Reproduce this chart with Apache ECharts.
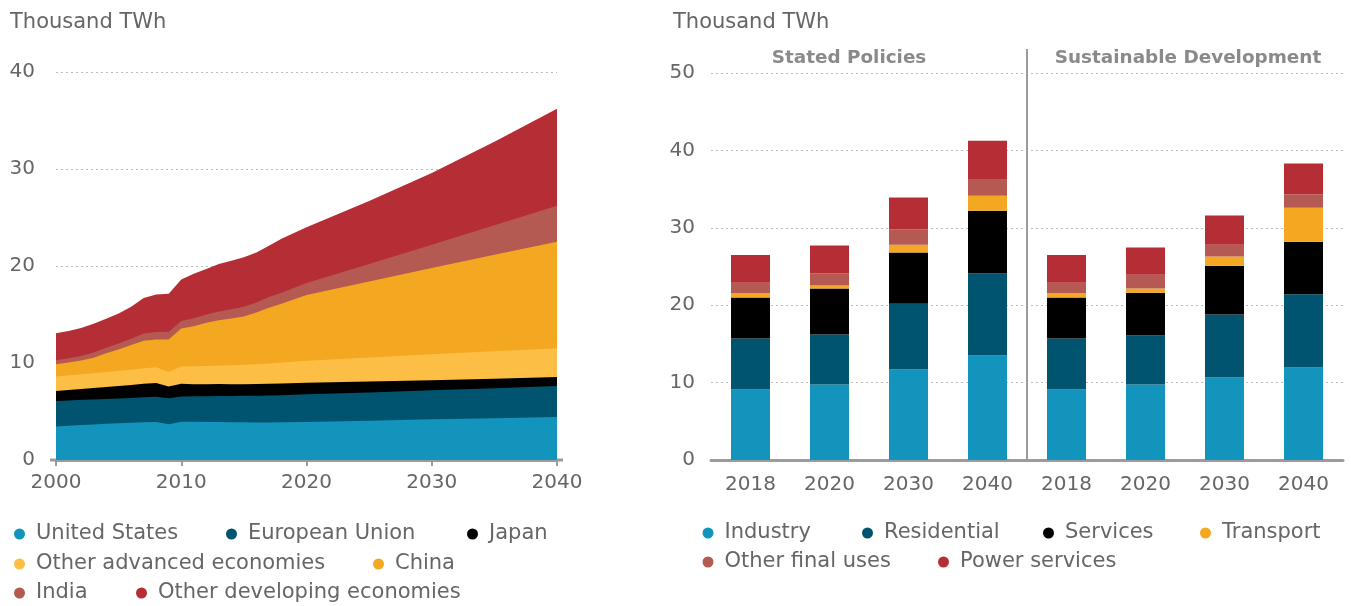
<!DOCTYPE html>
<html>
<head>
<meta charset="utf-8">
<script src="https://cdn.jsdelivr.net/npm/echarts@6/dist/echarts.min.js"></script>
<style>
html,body{margin:0;padding:0;background:#fff;}
#chart{width:1351px;height:606px;}
</style>
</head>
<body>
<div id="chart"></div>
<script>
// ---------- Left chart: electricity demand by region ----------
const years = [2000,2001,2002,2003,2004,2005,2006,2007,2008,2009,2010,2011,2012,2013,2014,2015,2016,2017,2018,2020,2025,2030,2035,2040];
const unitedStates = [3.45,3.52,3.6,3.67,3.73,3.8,3.85,3.9,3.92,3.68,3.95,3.94,3.92,3.91,3.9,3.88,3.87,3.87,3.9,3.93,4.05,4.19,4.31,4.43];
const europeanUnion = [2.63,2.62,2.6,2.58,2.57,2.55,2.55,2.58,2.61,2.68,2.6,2.63,2.66,2.69,2.7,2.74,2.76,2.78,2.78,2.84,2.92,2.99,3.09,3.2];
const japan = [1.03,1.08,1.12,1.17,1.22,1.28,1.33,1.38,1.42,1.22,1.3,1.25,1.24,1.23,1.22,1.2,1.2,1.21,1.21,1.2,1.12,1.03,0.98,0.93];
const otherAdvanced = [1.5,1.51,1.52,1.53,1.55,1.56,1.58,1.6,1.6,1.5,1.8,1.84,1.88,1.92,1.96,2.0,2.05,2.1,2.15,2.25,2.47,2.68,2.82,2.96];
const china = [1.25,1.32,1.41,1.6,1.93,2.21,2.54,2.84,2.87,3.34,3.9,4.14,4.45,4.65,4.82,4.98,5.32,5.74,6.06,6.78,7.84,8.91,9.95,10.98];
const india = [0.42,0.45,0.48,0.52,0.56,0.6,0.66,0.73,0.78,0.8,0.78,0.82,0.86,0.9,0.95,1.0,1.05,1.1,1.15,1.25,1.8,2.4,3.05,3.7];
const otherDeveloping = [2.78,2.8,2.87,2.98,2.99,3.1,3.29,3.67,3.85,3.93,4.27,4.58,4.69,4.9,5.0,5.1,5.15,5.3,5.55,5.75,6.5,7.4,8.6,10.0];
const leftYTicks = [0,10,20,30,40];
const leftXTicks = [2000,2010,2020,2030,2040];

// ---------- Right chart: demand by sector and scenario ----------
const barYears = ['2018','2020','2030','2040','2018','2020','2030','2040'];
const scenarios = ['Stated Policies','Sustainable Development'];
const industry =    [9.1, 9.76, 11.7, 13.5, 9.1, 9.76, 10.67, 11.96];
const residential = [6.6, 6.45, 8.5, 10.6, 6.6, 6.34, 8.13, 9.44];
const services =    [5.3, 5.95, 6.6, 8.1, 5.3, 5.5, 6.3, 6.8];
const transport =   [0.55, 0.4, 1.0, 1.95, 0.55, 0.55, 1.2, 4.4];
const otherFinal =  [1.35, 1.55, 2.0, 2.15, 1.35, 1.8, 1.5, 1.7];
const powerServices=[3.6, 3.6, 4.1, 4.95, 3.6, 3.5, 3.8, 4.0];
const rightYTicks = [0,10,20,30,40,50];

const C = {
  blue:'#1394BC', teal:'#00546F', black:'#000000', yellow:'#FDBE45',
  orange:'#F4A720', rose:'#B55A52', red:'#B52D35'
};
const FONT = 'DejaVu Sans, Verdana, sans-serif';
const TXT = '#666666';
const AXIS = '#9b9b9b';

const leftSeriesDefs = [
  ['United States', unitedStates, C.blue],
  ['European Union', europeanUnion, C.teal],
  ['Japan', japan, C.black],
  ['Other advanced economies', otherAdvanced, C.yellow],
  ['China', china, C.orange],
  ['India', india, C.rose],
  ['Other developing economies', otherDeveloping, C.red]
];
const rightSeriesDefs = [
  ['Industry', industry, C.blue],
  ['Residential', residential, C.teal],
  ['Services', services, C.black],
  ['Transport', transport, C.orange],
  ['Other final uses', otherFinal, C.rose],
  ['Power services', powerServices, C.red]
];

const chart = echarts.init(document.getElementById('chart'), null, {renderer:'canvas'});

// Stacked areas on a value x-axis: build running totals, draw the tallest first.
const running = years.map(() => 0);
const leftSeries = leftSeriesDefs.map(([name, vals, color]) => {
  vals.forEach((v,i) => { running[i] += v; });
  const totals = running.slice();
  return {
    name, type:'line', xAxisIndex:0, yAxisIndex:0,
    data: years.map((y,i)=>[y, +totals[i].toFixed(3)]),
    showSymbol:false, symbol:'none', smooth:false,
    lineStyle:{width:0}, areaStyle:{color, opacity:1, origin:'start'}, itemStyle:{color},
    emphasis:{disabled:true}, animation:false
  };
});
const series = leftSeries.slice().reverse();
rightSeriesDefs.forEach(([name, vals, color]) => {
  series.push({
    name, type:'bar', xAxisIndex:1, yAxisIndex:1, stack:'sectors',
    data: vals, barWidth:39, itemStyle:{color},
    emphasis:{disabled:true}, animation:false
  });
});

// legend item positions (layout)
const legendPos = {
  'United States':[14,534], 'European Union':[226,534], 'Japan':[467,534],
  'Other advanced economies':[14,564], 'China':[373,564],
  'India':[14,593], 'Other developing economies':[136,593],
  'Industry':[702.5,533], 'Residential':[862,533], 'Services':[1043,533], 'Transport':[1200,533],
  'Other final uses':[702.5,562], 'Power services':[938,562]
};
const legends = Object.keys(legendPos).map(name => ({
  data:[name], left: legendPos[name][0], top: legendPos[name][1]-11,
  icon:'circle', itemWidth:11, itemHeight:11, itemGap:0, padding:0,
  selectedMode:false,
  textStyle:{color:TXT, fontSize:21, fontFamily:FONT, lineHeight:22, padding:[0,0,0,6]}
}));

const option = {
  animation:false,
  title:[
    {text:'Thousand TWh', left:10, top:12, padding:0, textStyle:{color:TXT, fontSize:21, fontWeight:'normal', fontFamily:FONT}},
    {text:'Thousand TWh', left:673, top:12, padding:0, textStyle:{color:TXT, fontSize:21, fontWeight:'normal', fontFamily:FONT}}
  ],
  legend: legends,
  grid:[
    {left:56, top:72, width:501, height:388},
    {left:711, top:73, width:632, height:387}
  ],
  xAxis:[
    {type:'value', gridIndex:0, min:leftXTicks[0], max:leftXTicks[leftXTicks.length-1], interval:10,
     axisLine:{show:true, onZero:false, lineStyle:{color:AXIS, width:3}},
     axisTick:{show:true, length:6, lineStyle:{color:AXIS, width:2}},
     axisLabel:{color:TXT, fontSize:20, fontFamily:FONT, margin:13, formatter:(v)=>String(v)},
     splitLine:{show:false}},
    {type:'category', gridIndex:1, data:barYears, boundaryGap:true,
     axisLine:{show:true, lineStyle:{color:AXIS, width:3}},
     axisTick:{show:false},
     axisLabel:{color:TXT, fontSize:20, fontFamily:FONT, margin:15, interval:0},
     splitLine:{show:false}}
  ],
  yAxis:[
    {type:'value', gridIndex:0, min:leftYTicks[0], max:leftYTicks[leftYTicks.length-1], interval:10,
     axisLine:{show:false}, axisTick:{show:false},
     axisLabel:{color:TXT, fontSize:20, fontFamily:FONT, margin:21},
     splitLine:{show:true, lineStyle:{color:'#bbbbbb', type:[2,3], width:1}}},
    {type:'value', gridIndex:1, min:rightYTicks[0], max:rightYTicks[rightYTicks.length-1], interval:10,
     axisLine:{show:false}, axisTick:{show:false},
     axisLabel:{color:TXT, fontSize:20, fontFamily:FONT, margin:16},
     splitLine:{show:true, lineStyle:{color:'#bbbbbb', type:[2,3], width:1}}}
  ],
  graphic:[
    {type:'line', shape:{x1:50, y1:460, x2:563, y2:460}, style:{stroke:AXIS, lineWidth:3}, z:1},
    {type:'line', shape:{x1:1027, y1:49, x2:1027, y2:460}, style:{stroke:AXIS, lineWidth:2}, z:10},
    {type:'text', x:849, y:58, style:{text:scenarios[0], fill:'#8a8a8a', font:'bold 18.4px '+FONT, textAlign:'center', textVerticalAlign:'middle'}},
    {type:'text', x:1188, y:58, style:{text:scenarios[1], fill:'#8a8a8a', font:'bold 18.4px '+FONT, textAlign:'center', textVerticalAlign:'middle'}}
  ],
  series
};
chart.setOption(option);
</script>
</body>
</html>
